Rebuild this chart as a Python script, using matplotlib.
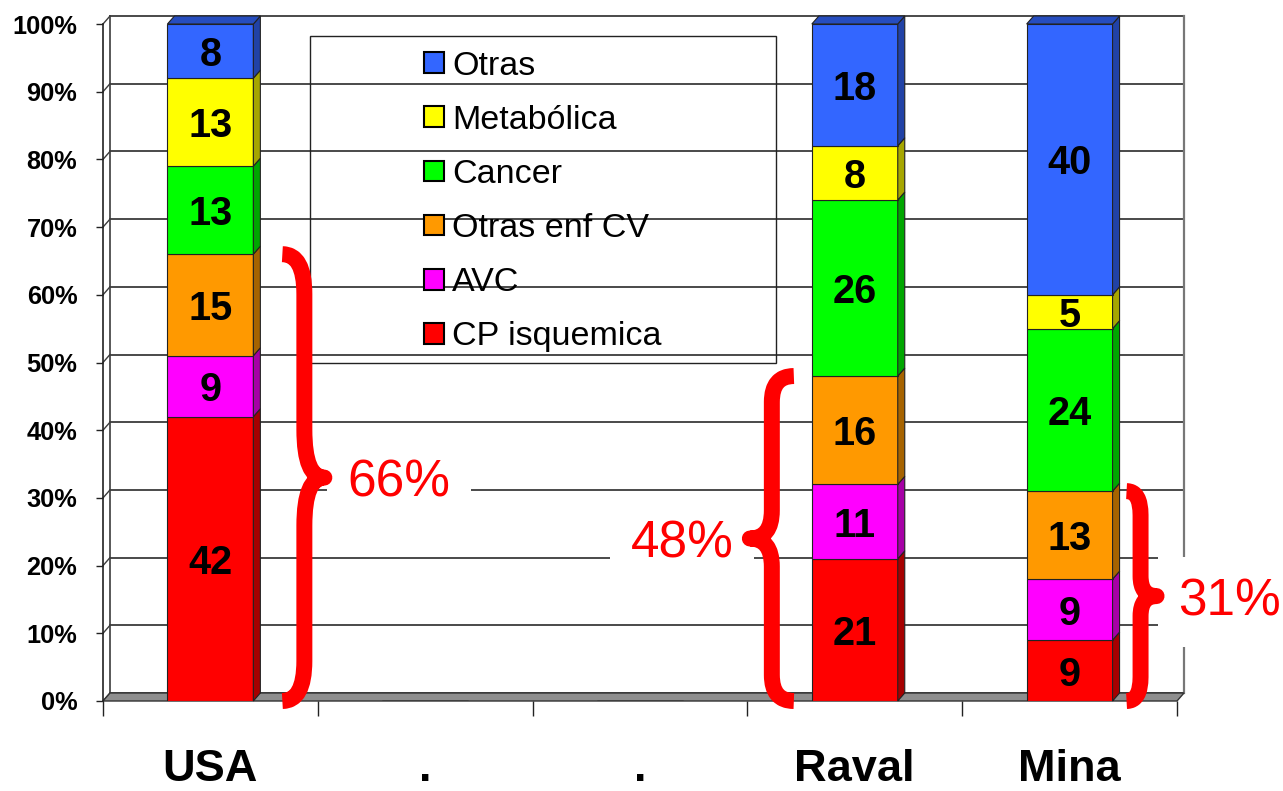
import numpy as np
import matplotlib
matplotlib.use("Agg")
import matplotlib.pyplot as plt
import matplotlib.colors as mcolors
import matplotlib.transforms as mtransforms
from matplotlib.patches import Polygon, Rectangle, PathPatch
from matplotlib.path import Path

plt.rcParams['font.family'] = ['Liberation Sans', 'DejaVu Sans']

# ---------------- data ----------------
categories = ["USA", ".", ".", "Raval", "Mina"]
series_names = ["CP isquemica", "AVC", "Otras enf CV", "Cancer", "Metabólica", "Otras"]
cp_isquemica = [42, 0, 0, 21, 9]
avc = [9, 0, 0, 11, 9]
otras_enf_cv = [15, 0, 0, 16, 13]
cancer = [13, 0, 0, 26, 24]
metabolica = [13, 0, 0, 8, 5]
otras = [8, 0, 0, 18, 40]
series_colors = ["#FF0000", "#FF00FF", "#FF9900", "#00FF00", "#FFFF00", "#3366FF"]
y_ticks = list(range(0, 101, 10))
y_tick_labels = [f"{v}%" for v in y_ticks]
# braces: category, side of the bar, number of (cardiovascular) series summed
brace_cats = ["USA", "Raval", "Mina"]
brace_sides = ["right", "left", "right"]
n_cv_series = 3

series_values = [cp_isquemica, avc, otras_enf_cv, cancer, metabolica, otras]

# ---------------- figure ----------------
W, H = 1283, 791
fig = plt.figure(figsize=(W / 100, H / 100), dpi=100)
ax = fig.add_axes([103 / W, 90 / H, 1074 / W, 677 / H])
ax.set_xlim(-0.5, len(categories) - 0.5)
ax.set_ylim(0, 100)
for s in ax.spines.values():
    s.set_visible(False)

PX = 1074 / len(categories)   # px per category
PY = 677 / 100.0              # px per percent
DX = 7 / PX
DY = 8 / PY
x0, x1 = -0.5, len(categories) - 0.5
grid_c = "#3c3c3c"

# back wall + gridlines
for v in y_ticks:
    ax.plot([x0 + DX, x1 + DX], [v + DY, v + DY], color=grid_c, lw=1.3, zorder=1, clip_on=False)
    ax.plot([x0, x0 + DX], [v, v + DY], color=grid_c, lw=1.0, zorder=1, clip_on=False)
ax.plot([x0 + DX, x0 + DX], [DY, 100 + DY], color=grid_c, lw=1.2, zorder=1, clip_on=False)
ax.plot([x1 + DX, x1 + DX], [DY, 100 + DY], color="#777777", lw=1.6, zorder=1, clip_on=False)
ax.plot([x0, x0], [0, 100], color="#222222", lw=1.2, zorder=2, clip_on=False)
# floor
ax.add_patch(Polygon([(x0, 0), (x1, 0), (x1 + DX, DY), (x0 + DX, DY)], closed=True,
                     fc="#8e8e8e", ec="#333333", lw=1.0, zorder=1.5, clip_on=False))

# ticks
ax.set_yticks(y_ticks, labels=y_tick_labels, fontweight="bold", fontsize=18.3)
ax.tick_params(axis="y", length=5, width=1.0, pad=13.5, color="#222222")
ax.set_xticks(np.arange(x0, x1 + 0.01, 1.0), labels=[""] * (len(categories) + 1))
ax.tick_params(axis="x", length=11, width=1.0, color="#222222")

# category labels
trans = mtransforms.blended_transform_factory(ax.transData, ax.transAxes)
for i, c in enumerate(categories):
    ax.text(i, -0.118, c, transform=trans, ha="center", va="baseline",
            fontsize=32.5, fontweight="bold", color="black")


def shade(c, f):
    return tuple(np.clip(np.array(mcolors.to_rgb(c)) * f, 0, 1))


# bars
x = np.arange(len(categories))
bw = 0.4
bottom = np.zeros(len(categories))
containers = []
for name, vals, col in zip(series_names, series_values, series_colors):
    vals = np.array(vals, dtype=float)
    bc = ax.bar(x, vals, bw, bottom=bottom, color=col, edgecolor="#222222",
                linewidth=0.8, zorder=3, label=name)
    containers.append(bc)
    for i in range(len(x)):
        v, b = vals[i], bottom[i]
        if v <= 0:
            continue
        xr = x[i] + bw / 2
        ax.add_patch(Polygon([(xr, b), (xr + DX, b + DY), (xr + DX, b + v + DY), (xr, b + v)],
                             closed=True, fc=shade(col, 0.65), ec="#222222", lw=0.8,
                             zorder=3, clip_on=False))
        ax.text(x[i], b + v / 2, f"{int(v)}", ha="center", va="center_baseline",
                fontsize=28.5, fontweight="bold", color="black", zorder=4)
    bottom = bottom + vals

# top faces
top_col = series_colors[-1]
for i in range(len(x)):
    if bottom[i] <= 0:
        continue
    xl, xr = x[i] - bw / 2, x[i] + bw / 2
    t = bottom[i]
    ax.add_patch(Polygon([(xl, t), (xl + DX, t + DY), (xr + DX, t + DY), (xr, t)], closed=True,
                         fc=shade(top_col, 0.75), ec="#222222", lw=0.8, zorder=3, clip_on=False))

# legend (entries centered in a transparent frame)
frame = Rectangle((310 / W, 1 - 363 / H), 466 / W, 327 / H, transform=fig.transFigure,
                  fill=False, ec="#222222", lw=1.0, zorder=4, clip_on=False)
ax.add_patch(frame)
leg = ax.legend(handles=containers[::-1], labels=series_names[::-1], frameon=False,
                loc="center", bbox_to_anchor=(543 / W, 1 - 201.5 / H),
                bbox_transform=fig.transFigure, fontsize=24.5, borderpad=0,
                handlelength=0.56, handleheight=0.56, handletextpad=0.25,
                labelspacing=0.68)
for h in leg.legend_handles:
    h.set_edgecolor("black")
    h.set_linewidth(1.5)
leg.set_zorder(4)

# braces + percentages
def draw_brace(xe, xs, xt, ylo, yhi, ymid, r_end, r_mid, lw):
    verts = [(xe, yhi), (xs, yhi), (xs, yhi - r_end),
             (xs, ymid + r_mid), (xs, ymid), (xt, ymid),
             (xs, ymid), (xs, ymid - r_mid),
             (xs, ylo + r_end), (xs, ylo), (xe, ylo)]
    codes = [Path.MOVETO, Path.CURVE3, Path.CURVE3, Path.LINETO, Path.CURVE3, Path.CURVE3,
             Path.CURVE3, Path.CURVE3, Path.LINETO, Path.CURVE3, Path.CURVE3]
    ax.add_patch(PathPatch(Path(verts, codes), fill=False, ec="#FF0000", lw=lw,
                           capstyle="butt", joinstyle="round", zorder=6, clip_on=False))

brace_geom = {  # offsets in px: end, spine, tip, text ; radii in px
    "USA": (29, 51, 71, 94, 40, 48),
    "Raval": (18, 40, 62, 78, 26, 28),
    "Mina": (14, 28, 44, 66, 24, 20),
}
for cat, side in zip(brace_cats, brace_sides):
    i = categories.index(cat)
    total = int(sum(series_values[k][i] for k in range(n_cv_series)))
    e, s, t, tx, re_, rm = brace_geom[cat]
    sgn = 1 if side == "right" else -1
    edge = x[i] + sgn * bw / 2
    draw_brace(edge + sgn * e / PX, edge + sgn * s / PX, edge + sgn * t / PX,
               0, total, total / 2, re_ / PY, rm / PY, 11.5)
    ax.text(edge + sgn * tx / PX, total / 2, f"{total}%", ha="left" if sgn > 0 else "right",
            va="center_baseline", fontsize=37, color="#FF0000", zorder=5,
            bbox=dict(boxstyle="square,pad=0.4", fc="white", ec="none"))

fig.savefig("out.png", dpi=100)
